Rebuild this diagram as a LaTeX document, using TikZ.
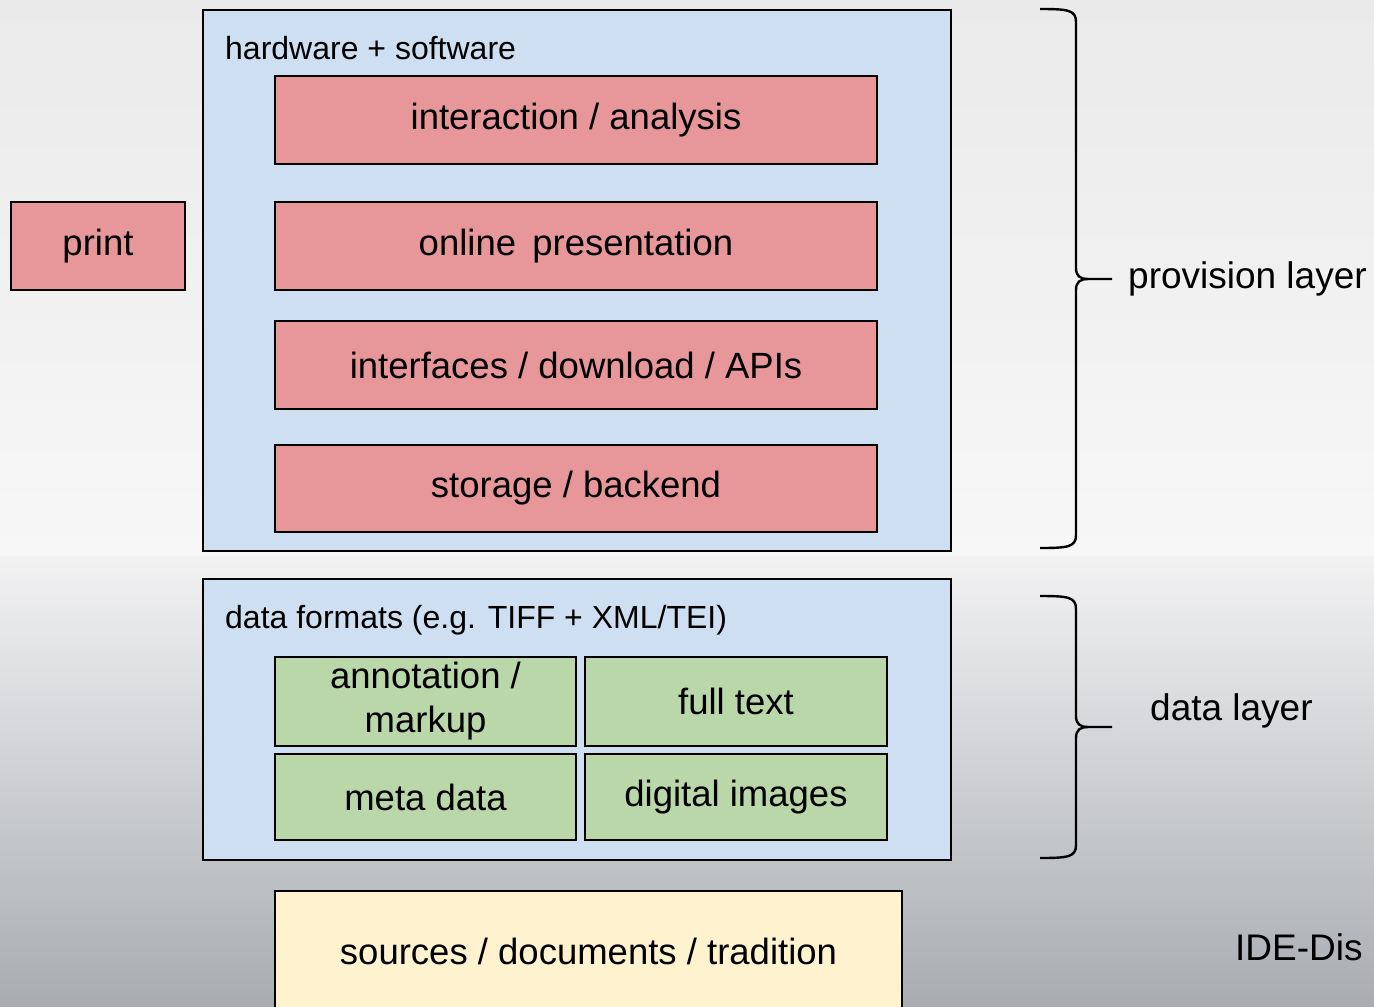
\documentclass[tikz,border=0pt]{standalone}
\usepackage{fontspec}
\setmainfont{Liberation Sans}
\definecolor{bluefill}{RGB}{205,223,241}
\definecolor{redfill}{RGB}{231,151,153}
\definecolor{greenfill}{RGB}{186,215,169}
\definecolor{yellowfill}{RGB}{255,242,206}
\begin{document}
\begin{tikzpicture}[x=1pt,y=-1pt,
  box/.style={draw=black, line width=2.5pt, inner sep=0pt, align=center},
  outerbox/.style={box, fill=bluefill},
  redbox/.style={box, fill=redfill, font=\fontsize{36.5}{40}\selectfont},
  greenbox/.style={box, fill=greenfill, font=\fontsize{36.5}{44}\selectfont},
  yellowbox/.style={box, fill=yellowfill},
  header/.style={anchor=west, inner sep=0pt, font=\fontsize{32}{36}\selectfont},
  label/.style={anchor=west, inner sep=0pt, font=\fontsize{37}{40}\selectfont},
  bracepath/.style={draw=black, line width=2.4pt}]
\useasboundingbox (0,0) rectangle (1374,1007);
\clip (0,0) rectangle (1374,1007);
% background
\shade[top color={rgb,255:red,234;green,234;blue,234}, bottom color={rgb,255:red,247;green,247;blue,247}] (0,0) rectangle (1374,556);
\shade[top color={rgb,255:red,242;green,242;blue,243}, bottom color={rgb,255:red,168;green,172;blue,177}] (0,556) rectangle (1374,1007);

% provision layer box
\node[outerbox, minimum width=748pt, minimum height=541pt] (hw) at (577,280.5) {};
\node[header] (hwlabel) at (225,48) {hardware + software};
\node[redbox, minimum width=602pt, minimum height=88pt] (ia) at (576,120) {\raisebox{-2pt}{interaction / analysis}};
\node[redbox, minimum width=602pt, minimum height=88pt] (op) at (576,246) {\raisebox{-2pt}{online\, presentation}};
\node[redbox, minimum width=602pt, minimum height=88pt] (ifc) at (576,365) {\raisebox{-2pt}{interfaces / download / APIs}};
\node[redbox, minimum width=602pt, minimum height=87pt] (sb) at (576,488.5) {\raisebox{-2pt}{storage / backend}};
\node[redbox, minimum width=174pt, minimum height=88pt] (print) at (98,246) {\raisebox{-2pt}{print}};

% data layer box
\node[outerbox, minimum width=748pt, minimum height=281pt] (df) at (577,719.5) {};
\node[header] (dflabel) at (225,620) {data formats (e.g. TIFF + XML/TEI)};
\node[greenbox, minimum width=301pt, minimum height=89pt] (ann) at (425.5,701.5) {annotation /\\markup};
\node[greenbox, minimum width=302pt, minimum height=89pt] (ft) at (736,701.5) {full text};
\node[greenbox, minimum width=301pt, minimum height=86pt] (md) at (425.5,797) {meta data};
\node[greenbox, minimum width=302pt, minimum height=86pt] (di) at (736,797) {digital images};

% sources
\node[yellowbox, minimum width=627pt, minimum height=130pt] (src) at (588.5,956) {};
\node[inner sep=0pt, font=\fontsize{36.5}{40}\selectfont] (srctext) at (588.5,951) {sources / documents / tradition};

% braces
\coordinate (b1top) at (1040,9);
\coordinate (b1bot) at (1040,548);
\coordinate (b1tip) at (1112,279);
\draw[bracepath] (b1top) .. controls (1068,9) and (1076,10) .. (1076,22) -- (1076,268)
  .. controls (1076,276) and (1080,279) .. (1088,279) -- (b1tip);
\draw[bracepath] (1088,279) .. controls (1080,279) and (1076,282) .. (1076,290) -- (1076,535)
  .. controls (1076,547) and (1068,548) .. (b1bot);
\node[label] (prov) at (1128,279) {provision layer};

\coordinate (b2top) at (1040,596);
\coordinate (b2bot) at (1040,858);
\coordinate (b2tip) at (1112,727);
\draw[bracepath] (b2top) .. controls (1068,596) and (1076,597) .. (1076,609) -- (1076,716)
  .. controls (1076,724) and (1080,727) .. (1088,727) -- (b2tip);
\draw[bracepath] (1088,727) .. controls (1080,727) and (1076,730) .. (1076,738) -- (1076,845)
  .. controls (1076,857) and (1068,858) .. (b2bot);
\node[label] (datal) at (1150,711) {data layer};

\node[label] (ide) at (1235,947) {IDE-Dis};
\end{tikzpicture}
\end{document}
